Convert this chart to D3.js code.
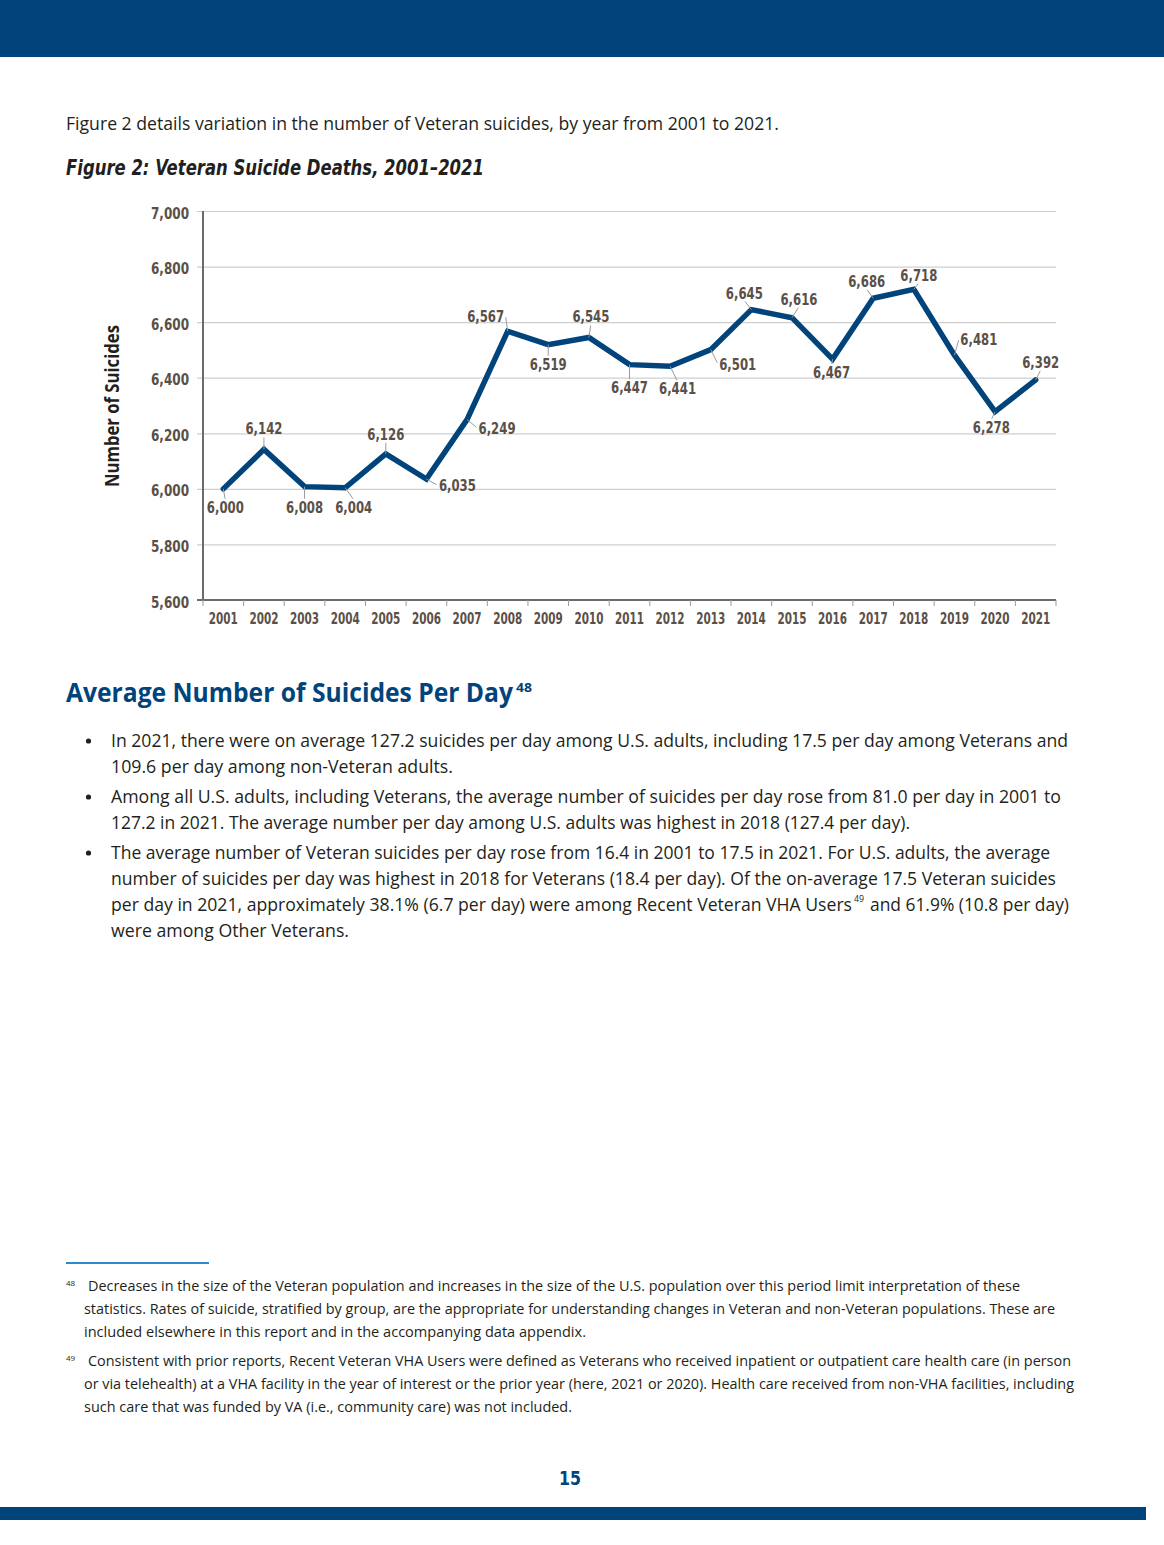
<!DOCTYPE html>
<html>
<head>
<meta charset="utf-8">
<script src="https://cdn.jsdelivr.net/npm/d3@7"></script>
<style>
  html, body { margin: 0; padding: 0; background: #fff; }
  svg { display: block; }
</style>
</head>
<body>
<script>
// ---------- DATA ----------
const years = ["2001","2002","2003","2004","2005","2006","2007","2008","2009","2010","2011",
               "2012","2013","2014","2015","2016","2017","2018","2019","2020","2021"];
const deaths = [6000,6142,6008,6004,6126,6035,6249,6567,6519,6545,6447,6441,6501,6645,6616,6467,6686,6718,6481,6278,6392];
const yTicks = [5600,5800,6000,6200,6400,6600,6800,7000];

// label placement relative to each point (layout only)
const labelOffsets = [[2,24],[0,-15],[0,26],[8.5,25],[0,-14],[31,12],[30,14],[-22,-9],[0,25],[2,-15],
  [0,28.6],[7.4,28],[27,20],[-7,-11],[7,-13],[-1,19],[-6.5,-11],[5,-8.4],[24.4,-10],[-3.7,21],[5,-12]];

const introText = "Figure 2 details variation in the number of Veteran suicides, by year from 2001 to 2021.";
const figTitle = "Figure 2: Veteran Suicide Deaths, 2001–2021";
const yAxisTitle = "Number of Suicides";
const heading = "Average Number of Suicides Per Day";
const headingSup = "48";
const bullets = [
  ["In 2021, there were on average 127.2 suicides per day among U.S. adults, including 17.5 per day among Veterans and",
   "109.6 per day among non-Veteran adults."],
  ["Among all U.S. adults, including Veterans, the average number of suicides per day rose from 81.0 per day in 2001 to",
   "127.2 in 2021. The average number per day among U.S. adults was highest in 2018 (127.4 per day)."],
  ["The average number of Veteran suicides per day rose from 16.4 in 2001 to 17.5 in 2021. For U.S. adults, the average",
   "number of suicides per day was highest in 2018 for Veterans (18.4 per day). Of the on-average 17.5 Veteran suicides",
   ["per day in 2021, approximately 38.1% (6.7 per day) were among Recent Veteran VHA Users", "49", "and 61.9% (10.8 per day)"],
   "were among Other Veterans."]
];
const footnotes = [
  {num: "48", lines: [
    "Decreases in the size of the Veteran population and increases in the size of the U.S. population over this period limit interpretation of these",
    "statistics. Rates of suicide, stratified by group, are the appropriate for understanding changes in Veteran and non-Veteran populations. These are",
    "included elsewhere in this report and in the accompanying data appendix."]},
  {num: "49", lines: [
    "Consistent with prior reports, Recent Veteran VHA Users were defined as Veterans who received inpatient or outpatient care health care (in person",
    "or via telehealth) at a VHA facility in the year of interest or the prior year (here, 2021 or 2020). Health care received from non-VHA facilities, including",
    "such care that was funded by VA (i.e., community care) was not included."]}
];
const pageNumber = "15";

// ---------- STYLE ----------
const NAVY = "#01447b";
const TEXT = "#231f20";
const LABEL = "#5a5048";
const BODY_FONT = "'Open Sans', 'Noto Sans', sans-serif";
const COND_FONT = "'Liberation Sans Narrow', 'DejaVu Sans Condensed', 'Roboto', sans-serif";

const W = 1164, H = 1545;
const svg = d3.select("body").append("svg").attr("width", W).attr("height", H);

function fit(sel, width) {
  sel.attr("textLength", width).attr("lengthAdjust", "spacingAndGlyphs");
  return sel;
}

// header / footer bars
svg.append("rect").attr("x", 0).attr("y", 0).attr("width", W).attr("height", 57).attr("fill", NAVY);
svg.append("rect").attr("x", 0).attr("y", 1507).attr("width", 1146).attr("height", 13).attr("fill", NAVY);

// intro + title
fit(svg.append("text").attr("x", 66).attr("y", 130).attr("font-family", BODY_FONT)
  .attr("font-size", 18).attr("fill", TEXT).text(introText), 713);
fit(svg.append("text").attr("x", 66).attr("y", 175).attr("font-family", COND_FONT)
  .attr("font-size", 21).attr("font-weight", "bold").attr("font-style", "italic")
  .attr("fill", TEXT).text(figTitle), 418);

// ---------- CHART ----------
const x = d3.scaleBand().domain(years).range([203, 1056]).padding(0);
const y = d3.scaleLinear().domain([5600, 7000]).range([600, 211]);
const cx = d => x(d) + x.bandwidth() / 2;

const g = svg.append("g");

// gridlines + y ticks
const yAxis = d3.axisLeft(y).tickValues(yTicks).tickSize(6).tickFormat(d3.format(","));
const yg = g.append("g").attr("transform", "translate(203,0)").call(yAxis);
yg.select(".domain").remove();
yg.selectAll(".tick line").attr("stroke", "#cfcfcf").attr("stroke-width", 1.2)
  .attr("x1", -6).attr("x2", 1056 - 203);
yg.selectAll(".tick text").attr("x", -14).attr("dy", null).attr("y", 7)
  .attr("font-family", COND_FONT).attr("font-weight", "bold").attr("font-size", 16)
  .attr("fill", LABEL).each(function () { fit(d3.select(this), 38); });

// y axis line
g.append("line").attr("x1", 203).attr("x2", 203).attr("y1", 211).attr("y2", 601)
  .attr("stroke", "#6b6b6b").attr("stroke-width", 2);

// x axis
const xAxis = d3.axisBottom(x).tickSize(0);
const xg = g.append("g").attr("transform", "translate(0,600)").call(xAxis);
xg.select(".domain").attr("stroke", "#6b6b6b").attr("stroke-width", 2)
  .attr("d", "M197,0H1056");
xg.selectAll(".tick text").attr("y", 24).attr("dy", null)
  .attr("font-family", COND_FONT).attr("font-weight", "bold").attr("font-size", 15)
  .attr("fill", LABEL).each(function () { fit(d3.select(this), 29); });
// tick marks at band edges
const edges = years.map(d => x(d)).concat([x(years[years.length - 1]) + x.bandwidth()]);
xg.selectAll("line.edge").data(edges).join("line").attr("class", "edge")
  .attr("x1", d => d).attr("x2", d => d).attr("y1", 0).attr("y2", 6)
  .attr("stroke", "#9a9a9a").attr("stroke-width", 1);

// y axis title
svg.append("text").attr("transform", "translate(119,406) rotate(-90)")
  .attr("text-anchor", "middle").attr("font-family", BODY_FONT).attr("font-weight", "bold")
  .attr("font-size", 19).attr("fill", TEXT).text(yAxisTitle)
  .each(function () { fit(d3.select(this), 162); });

// line
const series = years.map((yr, i) => ({yr, v: deaths[i], off: labelOffsets[i]}));
g.append("path").datum(series)
  .attr("fill", "none").attr("stroke", NAVY).attr("stroke-width", 5.5)
  .attr("stroke-linejoin", "miter").attr("stroke-linecap", "round")
  .attr("d", d3.line().x(d => cx(d.yr)).y(d => y(d.v)));

// leader lines + labels
const fmt = d3.format(",");
const lbl = g.append("g");
series.forEach(d => {
  const px = cx(d.yr), py = y(d.v);
  const tx = px + d.off[0], ty = py + d.off[1];
  let ex, ey;
  if (Math.abs(d.off[0]) > 18) {           // side label
    ex = d.off[0] > 0 ? tx - 20 : tx + 20;
    ey = ty - 6;
  } else if (d.off[1] < 0) {               // above
    ex = tx; ey = ty + 2;
  } else {                                 // below
    ex = tx; ey = ty - 13;
  }
  const len = Math.hypot(ex - px, ey - py);
  const s = Math.max(0, (len - 1) / (len || 1));
  lbl.append("line").attr("x1", px).attr("y1", py)
    .attr("x2", px + (ex - px) * s).attr("y2", py + (ey - py) * s)
    .attr("stroke", "#9a9a9a").attr("stroke-width", 1);
  const t = lbl.append("text").attr("x", tx).attr("y", ty).attr("text-anchor", "middle")
    .attr("font-family", COND_FONT).attr("font-weight", "bold").attr("font-size", 15.5)
    .attr("fill", LABEL).text(fmt(d.v));
  fit(t, 37);
});

// ---------- HEADING (one text element with a superscript tspan) ----------
const hd = svg.append("text").attr("y", 702).attr("font-family", BODY_FONT)
  .attr("font-weight", "bold").attr("fill", NAVY);
fit(hd.append("tspan").attr("x", 66).attr("font-size", 27).text(heading), 447);
fit(hd.append("tspan").attr("x", 516).attr("y", 692).attr("font-size", 13).text(headingSup), 16);

// ---------- BULLETS ----------
const bulletBaselines = [[747, 773], [803, 829], [859, 885, 911, 937]];
const bulletWidths = [[957, 342], [950, 799], [939, 945, null, 238]];
bullets.forEach((b, bi) => {
  svg.append("circle").attr("cx", 88.5).attr("cy", bulletBaselines[bi][0] - 6).attr("r", 2.6).attr("fill", TEXT);
  b.forEach((line, li) => {
    const by = bulletBaselines[bi][li];
    const t = svg.append("text").attr("y", by).attr("font-family", BODY_FONT)
      .attr("font-size", 18.5).attr("fill", TEXT);
    if (Array.isArray(line)) {
      fit(t.append("tspan").attr("x", 111).attr("y", by).text(line[0]), 741);
      fit(t.append("tspan").attr("x", 854).attr("y", by - 9).attr("font-size", 9).text(line[1]), 10);
      fit(t.append("tspan").attr("x", 870).attr("y", by).text(line[2]), 199);
    } else {
      fit(t.attr("x", 111).text(line), bulletWidths[bi][li]);
    }
  });
});

// ---------- FOOTNOTES ----------
svg.append("line").attr("x1", 66).attr("x2", 209).attr("y1", 1263).attr("y2", 1263)
  .attr("stroke", "#2a8bd0").attr("stroke-width", 2);
const fnBaselines = [[1291, 1314, 1337], [1366, 1389, 1412]];
const fnWidths = [[932, 971, 502], [983, 990, 488]];
footnotes.forEach((fn, fi) => {
  svg.append("text").attr("x", 66).attr("y", fnBaselines[fi][0] - 5).attr("font-family", BODY_FONT)
    .attr("font-size", 8).attr("fill", TEXT).text(fn.num);
  fn.lines.forEach((line, li) => {
    const lx = li === 0 ? 88 : 84;
    fit(svg.append("text").attr("x", lx).attr("y", fnBaselines[fi][li]).attr("font-family", BODY_FONT)
      .attr("font-size", 15).attr("fill", TEXT).text(line), fnWidths[fi][li]);
  });
});

// page number
fit(svg.append("text").attr("x", 570).attr("y", 1485).attr("text-anchor", "middle")
  .attr("font-family", COND_FONT).attr("font-weight", "bold").attr("font-size", 20)
  .attr("fill", NAVY).text(pageNumber), 22);
</script>
</body>
</html>
